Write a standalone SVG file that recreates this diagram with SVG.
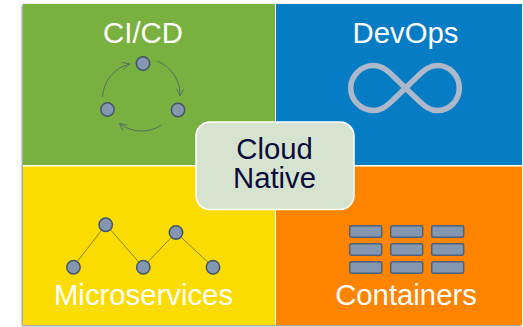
<svg xmlns="http://www.w3.org/2000/svg" width="523" height="327" viewBox="0 0 523 327">
  <defs>
    <filter id="shadow" x="-5%" y="-5%" width="110%" height="110%">
      <feDropShadow dx="-1" dy="1" stdDeviation="1.2" flood-color="#000" flood-opacity="0.5"/>
    </filter>
    <marker id="arrow" viewBox="0 0 10 10" refX="9" refY="5" markerWidth="9" markerHeight="9" markerUnits="userSpaceOnUse" orient="auto">
      <path d="M1 1 L9 5 L1 9" fill="none" stroke="#4d6070" stroke-width="0.8"/>
    </marker>
    <style>
      text { font-family: "Liberation Sans", Arial, sans-serif; font-size: 29.3px; text-anchor: middle; fill: #fff; }
      .dot { fill: #8497b0; stroke: #44546a; stroke-width: 1.5; }
      .cell { fill: #8497b0; stroke: #4f6078; stroke-width: 1.5; }
      .arc { fill: none; stroke: #4d6070; stroke-width: 0.8; marker-end: url(#arrow); }
      .link { fill: none; stroke: #7c7c38; stroke-width: 0.9; }
    </style>
  </defs>
  <rect width="523" height="327" fill="#fff"/>
  <g id="quadrants">
    <rect x="23" y="4" width="499" height="321" fill="#fff" filter="url(#shadow)"/>
    <rect id="q-cicd" x="23" y="4" width="252" height="161" fill="#78b13f"/>
    <rect id="q-devops" x="276" y="4" width="246" height="161" fill="#067cc5"/>
    <rect id="q-micro" x="23" y="166.500" width="252" height="158.500" fill="#fbdc00"/>
    <rect id="q-containers" x="276" y="166.500" width="246" height="158.500" fill="#ff8400"/>
  </g>
  <g id="connectors">
    <path class="arc" d="M157 61 A36 36 0 0 1 180 96"/>
    <path class="arc" d="M161.500 125 A36 36 0 0 1 119.500 123.500"/>
    <path class="arc" d="M102.500 97 A36 36 0 0 1 129.500 64"/>
    <path class="link" d="M73 267 L106 224.500 L143 267 L176 232.500 L213 267"/>
  </g>
  <g id="cicd">
    <text x="143" y="43">CI/CD</text>
    <circle class="dot" cx="143" cy="63.500" r="6.700"/>
    <circle class="dot" cx="107.500" cy="109.500" r="6.700"/>
    <circle class="dot" cx="178" cy="110" r="6.700"/>
  </g>
  <g id="devops">
    <text x="405.500" y="43">DevOps</text>
    <path d="M392 101 L419 75 C425 69.500 430 65.500 437.500 65.500 C450 65.500 459.300 76 459.300 88 C459.300 100 450 110.500 437.500 110.500 C430 110.500 425 106.500 419 101 L392 75 C386 69.500 381 65.500 373.500 65.500 C361 65.500 350.700 76 350.700 88 C350.700 100 361 110.500 373.500 110.500 C381 110.500 386 106.500 392 101 Z" fill="none" stroke="#adb9ca" stroke-width="5.500"/>
  </g>
  <g id="microservices">
    <circle class="dot" cx="73.500" cy="267.300" r="6.700"/>
    <circle class="dot" cx="105.700" cy="224.700" r="6.700"/>
    <circle class="dot" cx="143.300" cy="267.300" r="6.700"/>
    <circle class="dot" cx="176" cy="232.500" r="6.700"/>
    <circle class="dot" cx="213" cy="267.300" r="6.700"/>
    <text x="143.500" y="304.500">Microservices</text>
  </g>
  <g id="containers">
    <rect class="cell" x="349.700" y="225.700" width="32" height="11.500" rx="2"/>
    <rect class="cell" x="390.700" y="225.700" width="32" height="11.500" rx="2"/>
    <rect class="cell" x="431.700" y="225.700" width="32" height="11.500" rx="2"/>
    <rect class="cell" x="349.700" y="243.700" width="32" height="11.500" rx="2"/>
    <rect class="cell" x="390.700" y="243.700" width="32" height="11.500" rx="2"/>
    <rect class="cell" x="431.700" y="243.700" width="32" height="11.500" rx="2"/>
    <rect class="cell" x="349.700" y="261.700" width="32" height="11.500" rx="2"/>
    <rect class="cell" x="390.700" y="261.700" width="32" height="11.500" rx="2"/>
    <rect class="cell" x="431.700" y="261.700" width="32" height="11.500" rx="2"/>
    <text x="406" y="304.500">Containers</text>
  </g>
  <g id="cloud-native">
    <rect x="196" y="122" width="158" height="87.500" rx="14" fill="#d6e4cf" stroke="#fff" stroke-width="1.500"/>
    <text x="274.500" y="159" style="fill:#0a0a3c">Cloud</text>
    <text x="274.500" y="188" style="fill:#0a0a3c">Native</text>
  </g>
</svg>
